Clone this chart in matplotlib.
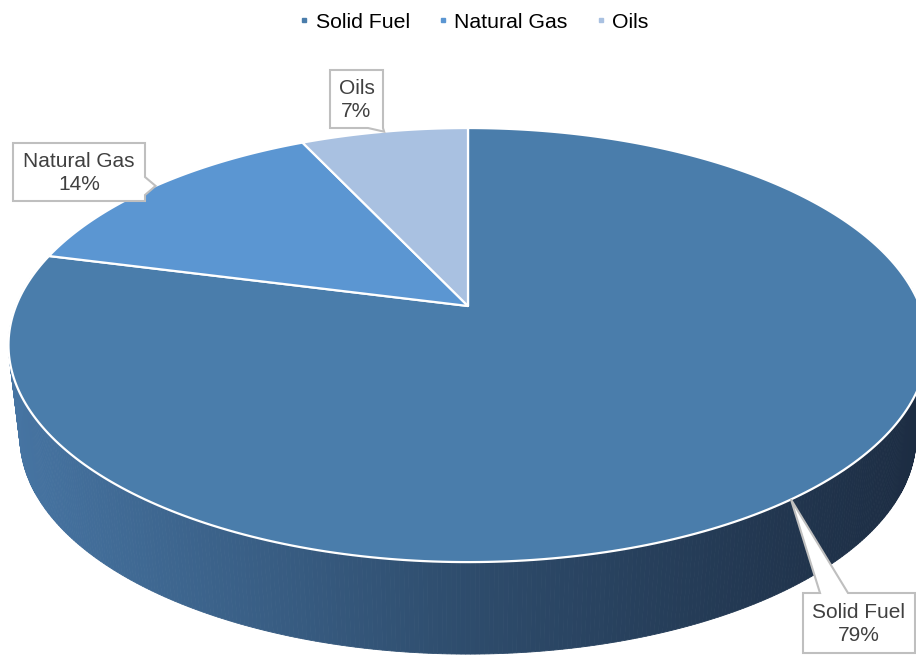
import numpy as np
import matplotlib.pyplot as plt
from matplotlib.patches import Polygon
from matplotlib.lines import Line2D
from matplotlib.colors import to_rgb

plt.rcParams['font.family'] = ['Liberation Sans', 'DejaVu Sans']

labels = ['Solid Fuel', 'Natural Gas', 'Oils']
shares = [79, 14, 7]
top_colors = ['#4a7dab', '#5b96d2', '#a9c1e1']

# 3D pie geometry in pixel space (perspective tilt)
W, H = 916, 657
cx, cy = 468, 306
a, b, k = 452, 210, 0.18
depth = 92
shrink = 0.975


def project(theta, r=1.0):
    # theta measured clockwise from 12 o'clock
    u = r * np.sin(theta)
    v = r * np.cos(theta)
    d = 1 + k * v
    return cx + a * u / d, cy - b * v / d


def blend(c0, c1, f):
    return [c0[i] + (c1[i] - c0[i]) * f for i in range(3)]


fig = plt.figure(figsize=(W / 100, H / 100), dpi=100)
ax = fig.add_axes([0, 0, 1, 1])
ax.set_xlim(0, W)
ax.set_ylim(H, 0)
ax.axis('off')

# side wall with a left-to-right shading
side_stops = [to_rgb('#4674a2'), to_rgb('#2e4c6c'), to_rgb('#1c2c42')]
ts = np.linspace(np.pi * 0.45, np.pi * 1.55, 400)
for t0, t1 in zip(ts[:-1], ts[1:]):
    x0, y0 = project(t0)
    x1, y1 = project(t1)
    bx0, by0 = cx + (x0 - cx) * shrink, y0 + depth
    bx1, by1 = cx + (x1 - cx) * shrink, y1 + depth
    f = np.clip(((x0 + x1) / 2 - 8) / 920, 0, 1)
    if f < 0.5:
        c = blend(side_stops[0], side_stops[1], f * 2)
    else:
        c = blend(side_stops[1], side_stops[2], (f - 0.5) * 2)
    ax.add_patch(Polygon([(x0, y0), (x1, y1), (bx1, by1), (bx0, by0)],
                         closed=True, facecolor=c, edgecolor=c, lw=0.6, zorder=1))

# top face wedges
fracs = np.array(shares) / sum(shares)
starts = np.concatenate([[0], np.cumsum(fracs)[:-1]]) * 2 * np.pi
ends = np.cumsum(fracs) * 2 * np.pi
for s, e, col in zip(starts, ends, top_colors):
    th = np.linspace(s, e, 300)
    xs, ys = project(th)
    pts = [(cx, cy)] + list(zip(xs, ys))
    ax.add_patch(Polygon(pts, closed=True, facecolor=col, edgecolor='white',
                         lw=1.6, joinstyle='round', zorder=2))

# callout boxes: (left, top, right, bottom), pointer base points, side of pointer
boxes = [
    ((803, 593, 915, 653), [(848, 593), (820, 593)], 'top'),
    ((13, 143, 145, 201), [(145, 177), (145, 195)], 'right'),
    ((330, 70, 383, 128), [(383, 128), (368, 128)], 'bottom'),
]
for i, ((l, t, r, btm), base, side) in enumerate(boxes):
    mid = (starts[i] + ends[i]) / 2
    tip = project(mid)
    if side == 'top':
        pts = [(l, t), base[1], tip, base[0], (r, t), (r, btm), (l, btm)]
    elif side == 'right':
        pts = [(l, t), (r, t), base[0], tip, base[1], (r, btm), (l, btm)]
    else:
        pts = [(l, t), (r, t), base[0], tip, base[1], (l, btm)]
    ax.add_patch(Polygon(pts, closed=True, facecolor='white', edgecolor='#bfbfbf',
                         lw=1.5, zorder=3))
    ax.text((l + r) / 2, (t + btm) / 2 + 1, f'{labels[i]}\n{shares[i]}%',
            ha='center', va='center', fontsize=15, color='#404040',
            linespacing=1.25, zorder=4)

handles = [Line2D([], [], marker='s', ls='none', color=c, markersize=3.5)
           for c in top_colors]
fig.legend(handles, labels, loc='center', bbox_to_anchor=(0.517, 1 - 22 / H),
           ncol=3, frameon=False, fontsize=15.3, handlelength=0.5,
           handletextpad=0.3, columnspacing=1.3)

fig.savefig('out.png', dpi=100)
